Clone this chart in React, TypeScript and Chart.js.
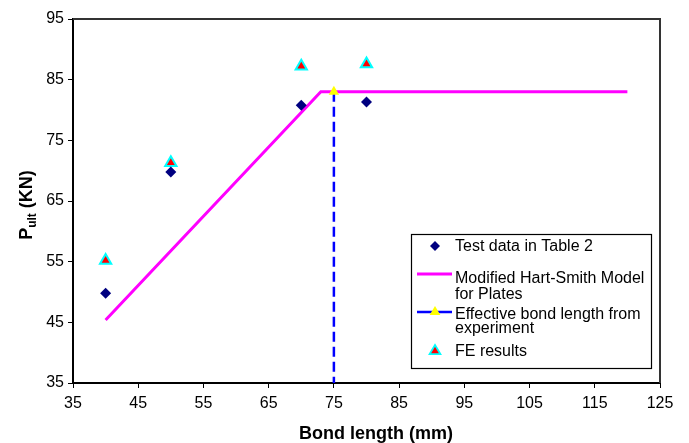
import React, { useEffect, useRef } from "react";
import { Chart, registerables } from "chart.js";

Chart.register(...registerables);

const xTicks = [35, 45, 55, 65, 75, 85, 95, 105, 115, 125];
const yTicks = [35, 45, 55, 65, 75, 85, 95];

const testX = [40, 50, 70, 80];
const testY = [49.8, 69.8, 80.8, 81.3];

const feX = [40, 50, 70, 80];
const feY = [55.2, 71.3, 87.2, 87.6];

const modelX = [40, 73, 120];
const modelY = [45.4, 83, 83];

const effX = [75, 75];
const effY = [83, 35];

const legendLabels = [
  ["Test data in Table 2"],
  ["Modified Hart-Smith Model", "for Plates"],
  ["Effective bond length from", "experiment"],
  ["FE results"],
];

const FONT = '"Liberation Sans", Arial, sans-serif';

const zip = (xs: number[], ys: number[]) => xs.map((x, i) => ({ x, y: ys[i] }));

function drawTriangle(ctx: CanvasRenderingContext2D, cx: number, cy: number, r: number, fill: string, stroke: string, lw: number) {
  const h = r * 1.5;
  const s = r * Math.sqrt(3) * 0.75 * 1.15;
  ctx.beginPath();
  ctx.moveTo(cx, cy - h * 0.66);
  ctx.lineTo(cx + s * 0.6, cy + h * 0.34);
  ctx.lineTo(cx - s * 0.6, cy + h * 0.34);
  ctx.closePath();
  ctx.fillStyle = fill;
  ctx.fill();
  if (lw > 0) {
    ctx.strokeStyle = stroke;
    ctx.lineWidth = lw;
    ctx.stroke();
  }
}

const decorPlugin = {
  id: "decor",
  afterDraw(chart: any) {
    const ctx: CanvasRenderingContext2D = chart.ctx;
    const a = chart.chartArea;
    ctx.save();
    // plot border top/right
    ctx.strokeStyle = "#333";
    ctx.lineWidth = 2;
    ctx.beginPath();
    ctx.moveTo(a.left, a.top);
    ctx.lineTo(a.right, a.top);
    ctx.lineTo(a.right, a.bottom);
    ctx.stroke();

    // x title
    ctx.fillStyle = "#000";
    ctx.font = `bold 18px ${FONT}`;
    ctx.textAlign = "center";
    ctx.textBaseline = "middle";
    ctx.fillText("Bond length (mm)", 376, 434);

    // y title with subscript
    ctx.save();
    ctx.translate(32, 205);
    ctx.rotate(-Math.PI / 2);
    ctx.textAlign = "left";
    ctx.textBaseline = "alphabetic";
    const big = `bold 18px ${FONT}`;
    const small = `bold 12px ${FONT}`;
    ctx.font = big;
    const wP = ctx.measureText("P").width;
    ctx.font = small;
    const wU = ctx.measureText("ult").width;
    ctx.font = big;
    const wK = ctx.measureText(" (KN)").width;
    const total = wP + wU + wK;
    let x0 = -total / 2;
    ctx.font = big;
    ctx.fillText("P", x0, 0);
    x0 += wP;
    ctx.font = small;
    ctx.fillText("ult", x0, 4);
    x0 += wU;
    ctx.font = big;
    ctx.fillText(" (KN)", x0, 0);
    ctx.restore();

    // legend box
    ctx.fillStyle = "#fff";
    ctx.fillRect(411, 234, 240, 134);
    ctx.strokeStyle = "#000";
    ctx.lineWidth = 1.2;
    ctx.strokeRect(411.5, 234.5, 240, 134);

    const sx = 435;
    // diamond
    ctx.fillStyle = "#000080";
    ctx.beginPath();
    ctx.moveTo(sx, 241);
    ctx.lineTo(sx + 5, 246);
    ctx.lineTo(sx, 251);
    ctx.lineTo(sx - 5, 246);
    ctx.closePath();
    ctx.fill();
    // magenta line
    ctx.strokeStyle = "#FF00FF";
    ctx.lineWidth = 3;
    ctx.beginPath();
    ctx.moveTo(417, 274);
    ctx.lineTo(452, 274);
    ctx.stroke();
    // blue line with yellow triangle
    ctx.strokeStyle = "#0000FF";
    ctx.lineWidth = 2.5;
    ctx.beginPath();
    ctx.moveTo(417, 312);
    ctx.lineTo(452, 312);
    ctx.stroke();
    drawTriangle(ctx, sx, 312, 6, "#FFFF00", "#FFFF00", 0);
    // FE triangle
    drawTriangle(ctx, sx, 351, 6, "#FF0000", "#00FFFF", 1.8);

    ctx.fillStyle = "#000";
    ctx.font = `16px ${FONT}`;
    ctx.textAlign = "left";
    ctx.textBaseline = "middle";
    const ys = [[247], [279, 295], [315, 329], [352]];
    legendLabels.forEach((lines, i) => {
      lines.forEach((t, j) => ctx.fillText(t, 455, ys[i][j]));
    });
    ctx.restore();
  },
};

export default function App() {
  const ref = useRef<HTMLCanvasElement>(null);
  useEffect(() => {
    if (!ref.current) return;
    const tickFont = { family: FONT, size: 16 };
    const chart = new Chart(ref.current, {
      type: "scatter",
      data: {
        datasets: [
          {
            label: "Test data in Table 2",
            data: zip(testX, testY),
            pointStyle: "rectRot",
            pointRadius: 5.5,
            backgroundColor: "#000080",
            borderColor: "#000080",
            borderWidth: 0,
          },
          {
            label: "FE results",
            data: zip(feX, feY),
            pointStyle: "triangle",
            pointRadius: 6.5,
            backgroundColor: "#FF0000",
            borderColor: "#00FFFF",
            borderWidth: 2,
          },
          {
            label: "Effective bond length from experiment",
            data: zip(effX, effY),
            showLine: true,
            borderColor: "#0000FF",
            borderWidth: 2.5,
            borderDash: [10, 5],
            pointStyle: "triangle",
            pointRadius: [6, 0],
            pointBackgroundColor: "#FFFF00",
            pointBorderColor: "#FFFF00",
            pointBorderWidth: 0,
          } as any,
          {
            label: "Modified Hart-Smith Model for Plates",
            data: zip(modelX, modelY),
            showLine: true,
            borderColor: "#FF00FF",
            borderWidth: 3,
            pointRadius: 0,
          },
        ],
      },
      options: {
        responsive: false,
        animation: false,
        devicePixelRatio: 1,
        layout: { padding: { left: 0, top: 19, right: 29, bottom: 0 } },
        plugins: { legend: { display: false }, tooltip: { enabled: false } },
        scales: {
          x: {
            type: "linear",
            min: 35,
            max: 125,
            afterBuildTicks: (s: any) => {
              s.ticks = xTicks.map((v) => ({ value: v }));
            },
            afterFit: (s: any) => {
              s.height = 60;
            },
            ticks: { color: "#000", font: tickFont, padding: 6, maxRotation: 0 },
            grid: { drawOnChartArea: false, tickLength: 5, color: "#000", lineWidth: 1 },
            border: { color: "#000", width: 2 },
          },
          y: {
            type: "linear",
            min: 35,
            max: 95,
            afterBuildTicks: (s: any) => {
              s.ticks = yTicks.map((v) => ({ value: v }));
            },
            afterFit: (s: any) => {
              s.width = 73;
            },
            ticks: { color: "#000", font: tickFont, padding: 4 },
            grid: { drawOnChartArea: false, tickLength: 5, color: "#000", lineWidth: 1 },
            border: { color: "#000", width: 2 },
          },
        },
      },
      plugins: [decorPlugin],
    } as any);
    return () => chart.destroy();
  }, []);
  return (
    <div style={{ position: "absolute", left: 0, top: 0, width: 689, height: 443, background: "#fff" }}>
      <canvas ref={ref} width={689} height={443} style={{ display: "block" }} />
    </div>
  );
}
